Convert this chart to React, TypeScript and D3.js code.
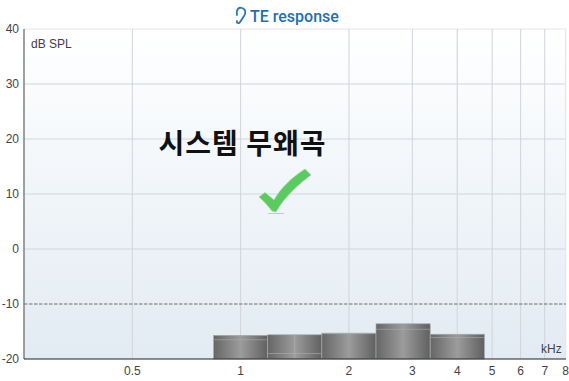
import React from "react";
import * as d3 from "d3";

const bandCenters = [1, 1.414, 2, 2.828, 4];
const responseDb = [-15.7, -15.6, -15.3, -13.6, -15.5];
const noiseDb = [-16.5, -19, -15.4, -14.6, -16.1];
const freqTicks = [0.5, 1, 2, 3, 4, 5, 6, 7, 8];
const dbTicks = [40, 30, 20, 10, 0, -10, -20];

const W = 569, H = 381;
const x = d3.scaleLog().domain([0.25, 8]).range([24, 565.6]);
const y = d3.scaleLinear().domain([-20, 40]).range([359, 29]);
const sans = "'Liberation Sans', Arial, sans-serif";

export default function App() {
  const halfBand = Math.pow(2, 0.25);
  return (
    <svg width={W} height={H} viewBox={`0 0 ${W} ${H}`} style={{ position: "absolute", left: 0, top: 0, background: "#fff" }}>
      <defs>
        <linearGradient id="bg" x1="0" y1="0" x2="0" y2="1">
          <stop offset="0" stopColor="#ffffff" />
          <stop offset="1" stopColor="#e2ebf3" />
        </linearGradient>
        <linearGradient id="bar" x1="0" y1="0" x2="1" y2="0">
          <stop offset="0" stopColor="#666666" />
          <stop offset="0.5" stopColor="#9c9c9c" />
          <stop offset="1" stopColor="#606060" />
        </linearGradient>
      </defs>
      <rect x={24} y={29} width={541.6} height={330} fill="url(#bg)" />
      {dbTicks.filter((d) => d !== -20 && d !== -10).map((d) => (
        <line key={d} x1={24} x2={566} y1={y(d)} y2={y(d)} stroke={d === 40 ? "#e6e6e6" : "#d2d6da"} strokeWidth={1} />
      ))}
      {freqTicks.map((f) => (
        <line key={f} x1={x(f)} x2={x(f)} y1={29} y2={359} stroke={f === 8 ? "#e6e8ea" : f === 4 ? "#d9dde1" : "#d0d4d9"} strokeWidth={f === 4 || f === 8 ? 1.4 : 1} />
      ))}
      <line x1={24} x2={566} y1={y(-10)} y2={y(-10)} stroke="#6e6e6e" strokeWidth={1} strokeDasharray="3.5 1.5" />

      {bandCenters.map((c, i) => {
        const x0 = x(c / halfBand), x1 = x(c * halfBand), top = y(responseDb[i]);
        return (
          <g key={c}>
            <rect x={x0} y={top} width={x1 - x0} height={359 - top} fill="url(#bar)" stroke="#a3a9ab" strokeWidth={0.7} />
            <line x1={x0} x2={x1} y1={y(noiseDb[i])} y2={y(noiseDb[i])} stroke="#b0b0b0" strokeOpacity={0.55} strokeWidth={1} />
          </g>
        );
      })}
      <line x1={x(bandCenters[1])} x2={x(bandCenters[1])} y1={y(responseDb[1])} y2={359} stroke="#b0b0b0" strokeOpacity={0.55} strokeWidth={1} />

      <line x1={24} x2={24} y1={29} y2={359} stroke="#808080" strokeWidth={1.5} />
      <line x1={24} x2={566} y1={359} y2={359} stroke="#222" strokeWidth={1.2} />

      {dbTicks.map((d) => (
        <text key={d} x={19} y={y(d) + 4} textAnchor="end" fontFamily={sans} fontSize={12} fill="#444">{d}</text>
      ))}
      {freqTicks.map((f) => (
        <text key={f} x={x(f)} y={375} textAnchor="middle" fontFamily={sans} fontSize={12} fill="#444">{f}</text>
      ))}
      <text x={31} y={48} fontFamily={sans} fontSize={12} fill="#4a3a4a">dB SPL</text>
      <text x={541} y={353} fontFamily={sans} fontSize={12} fill="#444">kHz</text>

      <g fill="none" stroke="#2a76b8" strokeWidth={1.8} strokeLinecap="round">
        <path d="M237 15 C236 9 239 7 242 8 C246 9 246 13 244 16 C242 19 241 21 240 22 C239 24 236 23 237 21" />
      </g>
      <text x={250} y={22} fontFamily="Roboto, sans-serif" fontWeight={500} fontSize={16} fill="#1f6fb2">TE response</text>

      <text x={242} y={154} textAnchor="middle" fontFamily="'Noto Sans CJK KR'" fontWeight={700} fontSize={28} textLength={167} fill="#111">시스템 무왜곡</text>

      <line x1={268} x2={284} y1={213.5} y2={213.5} stroke="#c4c8cc" strokeWidth={1} />
      <path d="M259 197 L265 192.5 L274 200 C281 188 291 178 305 169 L311 175 C299 184 285 196 276 212 L272 211 C268 206 264 201 259 197 Z" fill="#5ccb5f" stroke="#9ad89c" strokeWidth={0.6} />
    </svg>
  );
}
